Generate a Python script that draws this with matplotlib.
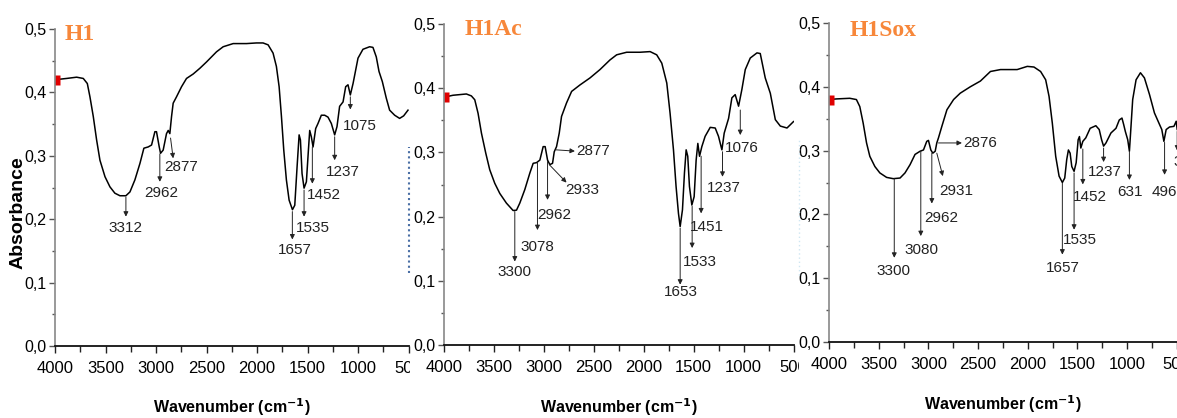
import numpy as np
import matplotlib
matplotlib.use("Agg")
import matplotlib.pyplot as plt
from matplotlib.lines import Line2D
from matplotlib.transforms import Bbox, TransformedBbox

plt.rcParams['font.family'] = ['Liberation Sans', 'DejaVu Sans']

# --- spectra (wavenumber, absorbance) ---
wn_h1 = [4000, 3885, 3786, 3720, 3680, 3654, 3621, 3588, 3555, 3505, 3456, 3407, 3357,
         3298, 3258, 3209, 3159, 3120, 3077, 3044, 3011, 2995, 2968, 2955, 2929, 2896,
         2879, 2863, 2846, 2830, 2797, 2747, 2698, 2632, 2566, 2500, 2401, 2335, 2236,
         2104, 2005, 1940, 1890, 1841, 1808, 1781, 1758, 1735, 1709, 1682, 1649, 1626,
         1603, 1583, 1570, 1554, 1534, 1511, 1491, 1478, 1462, 1445, 1419, 1396, 1363,
         1330, 1297, 1264, 1231, 1208, 1182, 1148, 1122, 1099, 1076, 1049, 1000, 951,
         885, 852, 819, 792, 759, 720, 687, 637, 588, 548, 505]
ab_h1 = [0.420, 0.422, 0.424, 0.422, 0.414, 0.393, 0.362, 0.325, 0.293, 0.267, 0.251,
         0.241, 0.237, 0.237, 0.243, 0.262, 0.288, 0.312, 0.314, 0.317, 0.338, 0.338,
         0.314, 0.304, 0.309, 0.335, 0.340, 0.335, 0.362, 0.383, 0.393, 0.409, 0.422,
         0.429, 0.438, 0.448, 0.464, 0.472, 0.477, 0.477, 0.478, 0.478, 0.475, 0.462,
         0.441, 0.409, 0.362, 0.309, 0.262, 0.230, 0.215, 0.222, 0.283, 0.333, 0.325,
         0.272, 0.249, 0.259, 0.309, 0.340, 0.330, 0.314, 0.343, 0.351, 0.364, 0.364,
         0.361, 0.351, 0.333, 0.346, 0.378, 0.385, 0.409, 0.412, 0.396, 0.414, 0.454,
         0.468, 0.472, 0.471, 0.456, 0.433, 0.417, 0.391, 0.372, 0.364, 0.359, 0.363,
         0.372]

wn_h1ac = [4000, 3910, 3776, 3726, 3692, 3659, 3625, 3582, 3542, 3492, 3441, 3375, 3308,
           3274, 3241, 3191, 3140, 3107, 3074, 3040, 3007, 2987, 2963, 2940, 2913, 2896,
           2873, 2846, 2823, 2773, 2722, 2639, 2538, 2438, 2338, 2271, 2171, 2037, 1936,
           1870, 1819, 1769, 1736, 1702, 1676, 1652, 1635, 1612, 1592, 1575, 1559, 1542,
           1518, 1495, 1475, 1458, 1441, 1418, 1385, 1334, 1284, 1251, 1217, 1194, 1150,
           1117, 1084, 1050, 1017, 983, 933, 866, 833, 783, 732, 682, 632, 565, 500]
ab_h1ac = [0.386, 0.389, 0.391, 0.388, 0.382, 0.361, 0.330, 0.299, 0.273, 0.252, 0.236,
           0.221, 0.2095, 0.210, 0.221, 0.242, 0.268, 0.283, 0.284, 0.288, 0.309, 0.309,
           0.288, 0.281, 0.283, 0.301, 0.309, 0.330, 0.356, 0.377, 0.395, 0.405, 0.416,
           0.429, 0.444, 0.452, 0.456, 0.456, 0.457, 0.452, 0.439, 0.408, 0.361, 0.304,
           0.247, 0.205, 0.1845, 0.2105, 0.268, 0.304, 0.294, 0.247, 0.218, 0.231, 0.288,
           0.314, 0.294, 0.309, 0.325, 0.339, 0.338, 0.325, 0.304, 0.330, 0.353, 0.385,
           0.390, 0.372, 0.398, 0.429, 0.447, 0.455, 0.454, 0.416, 0.392, 0.351, 0.341,
           0.338, 0.348]

wn_h1sox = [4000, 3926, 3791, 3724, 3690, 3656, 3622, 3589, 3538, 3488, 3420, 3353, 3285,
            3235, 3184, 3134, 3083, 3049, 3016, 2999, 2975, 2955, 2931, 2915, 2898, 2864,
            2813, 2746, 2679, 2578, 2476, 2375, 2274, 2173, 2106, 2004, 1937, 1870, 1819,
            1785, 1752, 1718, 1684, 1651, 1627, 1607, 1590, 1573, 1556, 1533, 1512, 1492,
            1479, 1465, 1445, 1415, 1371, 1314, 1280, 1256, 1236, 1212, 1162, 1111, 1078,
            1051, 1034, 1017, 993, 976, 960, 943, 909, 865, 825, 774, 724, 673, 650, 629,
            606, 572, 528, 505, 495, 480]
ab_h1sox = [0.380, 0.381, 0.382, 0.380, 0.369, 0.343, 0.312, 0.291, 0.275, 0.265, 0.258,
            0.256, 0.257, 0.265, 0.278, 0.294, 0.299, 0.301, 0.3145, 0.316, 0.301, 0.296,
            0.299, 0.312, 0.320, 0.338, 0.364, 0.380, 0.390, 0.400, 0.409, 0.424, 0.427,
            0.427, 0.427, 0.432, 0.431, 0.424, 0.411, 0.385, 0.343, 0.291, 0.260, 0.250,
            0.257, 0.286, 0.301, 0.296, 0.275, 0.2675, 0.281, 0.317, 0.322, 0.304, 0.3145,
            0.320, 0.335, 0.339, 0.333, 0.317, 0.307, 0.312, 0.3276, 0.335, 0.348, 0.351,
            0.341, 0.330, 0.317, 0.299, 0.338, 0.380, 0.411, 0.422, 0.414, 0.388, 0.359,
            0.341, 0.333, 0.3145, 0.333, 0.337, 0.338, 0.346, 0.333, 0.330]

# peak labels: (text, arrow start (wn, A), arrow end (wn, A), text centre (wn, A))
peaks_h1 = [
    ("3312", (3298, 0.235), (3298, 0.204), (3298, 0.186)),
    ("2962", (2962, 0.303), (2962, 0.259), (2952, 0.242)),
    ("2877", (2856, 0.328), (2830, 0.296), (2747, 0.282)),
    ("1657", (1650, 0.212), (1650, 0.168), (1626, 0.151)),
    ("1535", (1534, 0.246), (1534, 0.204), (1445, 0.186)),
    ("1452", (1452, 0.314), (1452, 0.256), (1340, 0.238)),
    ("1237", (1231, 0.330), (1231, 0.293), (1148, 0.275)),
    ("1075", (1076, 0.393), (1076, 0.373), (984, 0.347)),
]
peaks_h1ac = [
    ("3300", (3291, 0.208), (3291, 0.130), (3298, 0.114)),
    ("3078", (3064, 0.285), (3064, 0.179), (3064, 0.153)),
    ("2962", (2963, 0.286), (2963, 0.226), (2896, 0.203)),
    ("2933", (2946, 0.281), (2773, 0.253), (2612, 0.242)),
    ("1653", (1635, 0.182), (1635, 0.094), (1630, 0.082)),
    ("1533", (1515, 0.216), (1515, 0.151), (1435, 0.129)),
    ("1451", (1425, 0.294), (1425, 0.205), (1368, 0.1845)),
    ("1237", (1211, 0.301), (1211, 0.262), (1201, 0.244)),
    ("1076", (1033, 0.366), (1033, 0.327), (1017, 0.307)),
]
side_h1ac = [("2877", (2880, 0.304), (2689, 0.302))]

peaks_h1sox = [
    ("3300", (3343, 0.256), (3343, 0.132), (3353, 0.111)),
    ("3080", (3076, 0.299), (3076, 0.166), (3066, 0.144)),
    ("2962", (2965, 0.296), (2965, 0.217), (2874, 0.194)),
    ("2931", (2915, 0.296), (2854, 0.260), (2719, 0.236)),
    ("1657", (1651, 0.249), (1651, 0.137), (1651, 0.116)),
    ("1535", (1533, 0.265), (1533, 0.176), (1472, 0.160)),
    ("1452", (1445, 0.3025), (1445, 0.247), (1374, 0.228)),
    ("1237", (1236, 0.304), (1236, 0.282), (1219, 0.266)),
    ("631", (976, 0.299), (976, 0.254), (966, 0.235)),
    ("496", (622, 0.313), (622, 0.262), (622, 0.235)),
    ("3", (495, 0.330), (495, 0.300), (487, 0.282)),
]
side_h1sox = [("2876", (2898, 0.312), (2662, 0.312))]

orange = '#F7873A'
W, H = 1177, 418
fig = plt.figure(figsize=(W / 100, H / 100), dpi=100)

# axes rectangles in pixels: left, x of 500 cm-1, y of 0.0, y of 0.5
panels = [
    dict(name="H1", wn=wn_h1, ab=ab_h1, peaks=peaks_h1, side=[], px=(55, 408.5), py=(346, 29),
         clip=(0, 410), title_x=0.028, title_y=1.017),
    dict(name="H1Ac", wn=wn_h1ac, ab=ab_h1ac, peaks=peaks_h1ac, side=side_h1ac, px=(444, 793.5),
         py=(345, 24), clip=(410, 799), title_x=0.058, title_y=1.017),
    dict(name="H1Sox", wn=wn_h1sox, ab=ab_h1sox, peaks=peaks_h1sox, side=side_h1sox,
         px=(829, 1176.7), py=(342, 23), clip=(799, W), title_x=0.058, title_y=1.01),
]

arrow_kw = dict(arrowstyle='-|>', lw=0.7, color='#222222', mutation_scale=7,
                shrinkA=0, shrinkB=0)
lab_size = 11

for i, p in enumerate(panels):
    x0, x5 = p['px']
    y0, y5 = p['py']
    # last panel runs past the figure edge so that 500 sits right at the edge
    xlo = 400 if i == 2 else 500
    right = x0 + (x5 - x0) * (4000 - xlo) / 3500
    ax = fig.add_axes([x0 / W, (H - y0) / H, (right - x0) / W, (y0 - y5) / H])
    ax.set_xlim(4000, xlo)
    ax.set_ylim(0, 0.5)
    ax.patch.set_alpha(0)

    ax.plot(p['wn'], p['ab'], color='black', lw=1.1)
    ax.plot(p['wn'][0], p['ab'][0], marker='s', color='#E00000', ms=7, mec='none')

    for lab, (xa, ya), (xb, yb), (xt, yt) in p['peaks']:
        ax.annotate('', xy=(xb, yb), xytext=(xa, ya), arrowprops=arrow_kw)
        ax.text(xt, yt, lab, ha='center', va='center', fontsize=lab_size, color='#222222')
    for lab, (xa, ya), (xb, yb) in p['side']:
        ax.annotate('', xy=(xb, yb), xytext=(xa, ya), arrowprops=arrow_kw)
        ax.text(xb - 15, yb, lab, ha='left', va='center', fontsize=lab_size, color='#222222')

    ax.text(p['title_x'], p['title_y'], p['name'], transform=ax.transAxes,
            family='Liberation Serif', fontweight='bold', fontsize=17, color=orange,
            ha='left', va='top')

    ax.set_xticks([4000, 3500, 3000, 2500, 2000, 1500, 1000, 500])
    ax.set_xticks(np.arange(3750, xlo, -500), minor=True)
    ax.set_yticks([0, 0.1, 0.2, 0.3, 0.4, 0.5])
    ax.set_yticks([0.05, 0.15, 0.25, 0.35, 0.45], minor=True)
    ax.set_yticklabels(['0,0', '0,1', '0,2', '0,3', '0,4', '0,5'])
    ax.tick_params(axis='x', which='major', direction='out', length=5, width=1,
                   pad=6, labelsize=12, color='#222222')
    ax.tick_params(axis='x', which='minor', direction='out', length=4, width=1, color='#222222')
    ax.tick_params(axis='y', which='major', direction='out', length=4, width=1,
                   pad=2, labelsize=11.5, color='#555555')
    ax.tick_params(axis='y', which='minor', direction='out', length=2, width=1, color='#555555')

    for s in ['top', 'right']:
        ax.spines[s].set_visible(False)
    ax.spines['left'].set_color('#888888')
    ax.spines['left'].set_linewidth(1.2)
    ax.spines['bottom'].set_color('#111111')
    ax.spines['bottom'].set_linewidth(1.3)

    ax.set_xlabel('Wavenumber (cm$^{\\mathbf{-1}}$)', fontsize=11.5, fontweight='bold')
    ax.xaxis.set_label_coords((0.5 * (x5 - x0)) / (right - x0), -0.16)
    if i == 0:
        ax.set_ylabel('Absorbance', fontsize=14, fontweight='bold')
        ax.yaxis.set_label_coords(-0.08, 0.42)

    # crop each panel's texts to its own strip like in the source image
    cx0, cx1 = p['clip']
    box = TransformedBbox(Bbox([[cx0 / W, 0], [cx1 / W, 1]]), fig.transFigure)
    for t in ax.get_xticklabels() + ax.get_yticklabels() + ax.texts:
        t.set_clip_box(box)
        t.set_clip_on(True)

# dotted separators between panels
fig.add_artist(Line2D([409 / W, 409 / W], [(H - 273) / H, (H - 147) / H],
                      transform=fig.transFigure, color='#4A6FA5', lw=1.5, ls=(0, (1, 1.5))))
fig.add_artist(Line2D([799 / W, 799 / W], [(H - 275) / H, (H - 140) / H],
                      transform=fig.transFigure, color='#CFE6F2', lw=1, ls=(0, (1, 2))))

fig.savefig('out.png', dpi=100)
